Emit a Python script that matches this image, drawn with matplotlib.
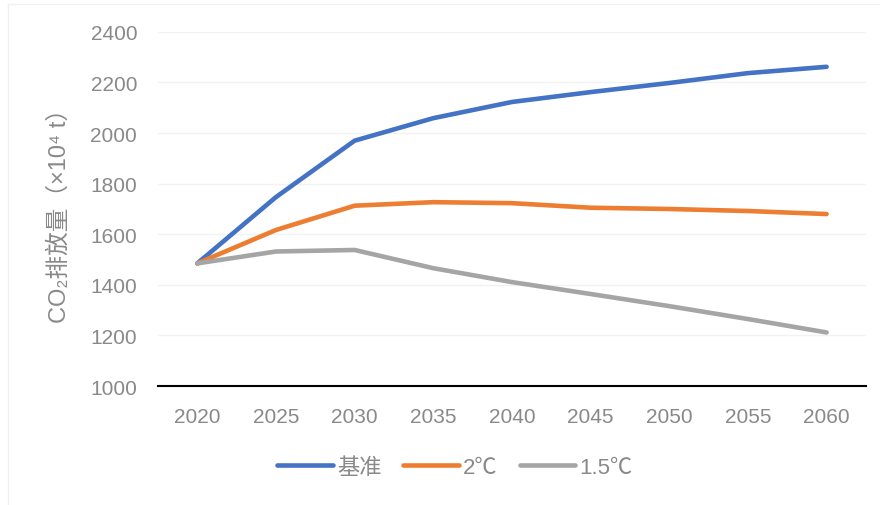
import matplotlib
matplotlib.use('Agg')
import matplotlib.pyplot as plt
from matplotlib.lines import Line2D

years = [2020, 2025, 2030, 2035, 2040, 2045, 2050, 2055, 2060]
baseline = [1485, 1747, 1970, 2059, 2123, 2162, 2198, 2237, 2262]
deg_2 = [1485, 1617, 1713, 1727, 1723, 1705, 1700, 1692, 1680]
deg_15 = [1485, 1532, 1538, 1466, 1411, 1364, 1316, 1265, 1212]
series_names = ['基准', '2℃', '1.5℃']
y_ticks = [1000, 1200, 1400, 1600, 1800, 2000, 2200, 2400]

TEXT = '#898989'
COLORS = ['#4472C4', '#ED7D31', '#A5A5A5']
FAMILY = ['Liberation Sans', 'Noto Sans CJK SC', 'DejaVu Sans']

plt.rcParams['font.family'] = FAMILY

fig = plt.figure(figsize=(8.8, 5.06), dpi=100)
ax = fig.add_axes([0.1795, 0.235, 0.8045, 0.70])

xs = list(range(len(years)))
for vals, color, name in zip([baseline, deg_2, deg_15], COLORS, series_names):
    ax.plot(xs, vals, color=color, linewidth=3.3, solid_capstyle='round',
            solid_joinstyle='round', label=name)

ax.set_xlim(-0.5, len(years) - 0.5)
ax.set_ylim(1000, 2400)
ax.set_yticks(y_ticks)
ax.set_xticks(xs)
ax.set_xticklabels([str(y) for y in years])
ax.tick_params(axis='both', length=0, labelsize=15, colors=TEXT)
ax.tick_params(axis='y', pad=15)
ax.tick_params(axis='x', pad=15)

ax.grid(axis='y', color='#f2f2f2', linewidth=1.0)
ax.set_axisbelow(True)
for side in ['top', 'right', 'left']:
    ax.spines[side].set_visible(False)
ax.spines['bottom'].set_color('black')
ax.spines['bottom'].set_linewidth(1.5)
ax.spines['bottom'].set_zorder(1)

ax.set_ylabel('CO₂排放量（×10⁴ t）', fontsize=17, color=TEXT,
              labelpad=14)

handles = [Line2D([0], [0], color=c, linewidth=3.3, solid_capstyle='round')
           for c in COLORS]
leg = fig.legend(handles, series_names, loc='center', ncol=3,
                 bbox_to_anchor=(0.517, 0.075), frameon=False,
                 fontsize=16, handlelength=2.5, handletextpad=0.18,
                 columnspacing=1.0)
for t in leg.get_texts():
    t.set_color(TEXT)

# faint chart-area border
fig.add_artist(Line2D([0.0095, 0.0095], [0.0, 0.99], color='#f0f0f0',
                      linewidth=1, transform=fig.transFigure))
fig.add_artist(Line2D([0.0095, 1.0], [0.99, 0.99], color='#f0f0f0',
                      linewidth=1, transform=fig.transFigure))

fig.savefig('out.png', dpi=100)
